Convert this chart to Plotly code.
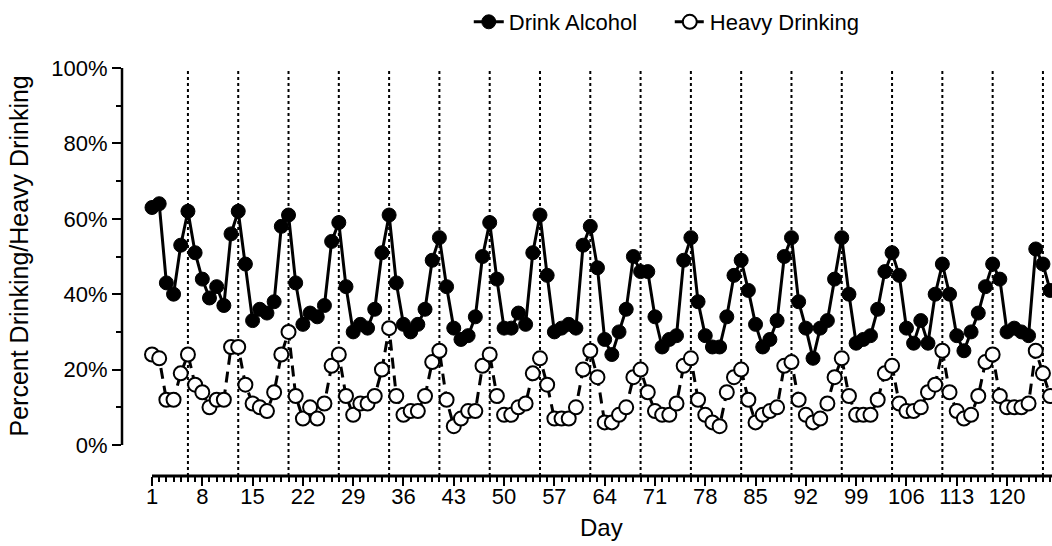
import plotly.graph_objects as go

days = list(range(1, 127))

drink_alcohol = [
    63, 64, 43, 40, 53, 62, 51, 44, 39, 42, 37, 56, 62, 48, 33, 36, 35, 38, 58, 61,
    43, 32, 35, 34, 37, 54, 59, 42, 30, 32, 31, 36, 51, 61, 43, 32, 30, 32, 36, 49,
    55, 42, 31, 28, 29, 34, 50, 59, 44, 31, 31, 35, 32, 51, 61, 45, 30, 31, 32, 31,
    53, 58, 47, 28, 24, 30, 36, 50, 46, 46, 34, 26, 28, 29, 49, 55, 38, 29, 26, 26,
    34, 45, 49, 41, 32, 26, 28, 33, 50, 55, 38, 31, 23, 31, 33, 44, 55, 40, 27, 28,
    29, 36, 46, 51, 45, 31, 27, 33, 27, 40, 48, 40, 29, 25, 30, 35, 42, 48, 44, 30,
    31, 30, 29, 52, 48, 41,
]

heavy_drinking = [
    24, 23, 12, 12, 19, 24, 16, 14, 10, 12, 12, 26, 26, 16, 11, 10, 9, 14, 24, 30,
    13, 7, 10, 7, 11, 21, 24, 13, 8, 11, 11, 13, 20, 31, 13, 8, 9, 9, 13, 22,
    25, 12, 5, 7, 9, 9, 21, 24, 13, 8, 8, 10, 11, 19, 23, 16, 7, 7, 7, 10,
    20, 25, 18, 6, 6, 8, 10, 18, 20, 14, 9, 8, 8, 11, 21, 23, 12, 8, 6, 5,
    14, 18, 20, 12, 6, 8, 9, 10, 21, 22, 12, 8, 6, 7, 11, 18, 23, 13, 8, 8,
    8, 12, 19, 21, 11, 9, 9, 10, 14, 16, 25, 14, 9, 7, 8, 13, 22, 24, 13, 10,
    10, 10, 11, 25, 19, 13,
]

week_marks = list(range(6, 127, 7))
x_tick_vals = list(range(1, 121, 7))
y_tick_vals = [0, 20, 40, 60, 80, 100]
y_tick_text = [f"{v}%" for v in y_tick_vals]

FONT = "Liberation Sans, Arial, sans-serif"
PLOT_W, PLOT_H = 930, 408
X_MIN, X_MAX = 1 - 30 / 7.185, 1 + 900 / 7.185
Y_MIN, Y_MAX = -31 / 3.77, 100

fig = go.Figure()

fig.add_trace(go.Scatter(
    x=days, y=drink_alcohol,
    mode="lines+markers",
    name="Drink Alcohol",
    line=dict(color="black", width=3),
    marker=dict(size=14, color="black", line=dict(color="black", width=1)),
))

fig.add_trace(go.Scatter(
    x=days, y=heavy_drinking,
    mode="lines+markers",
    name="Heavy Drinking",
    line=dict(color="black", width=3, dash="11px,7px"),
    marker=dict(size=14, color="white", line=dict(color="black", width=2)),
))

shapes = []
# dotted weekly guide lines
for d in week_marks:
    shapes.append(dict(
        type="line", xref="x", yref="y", x0=d, x1=d, y0=Y_MIN, y1=Y_MAX,
        line=dict(color="black", width=2, dash="dot"), layer="below",
    ))
# offset axis lines (GraphPad style)
shapes.append(dict(type="line", xref="paper", yref="y", x0=0, x1=0, y0=0, y1=100,
                   line=dict(color="black", width=2.5)))
shapes.append(dict(type="line", xref="x", yref="paper", x0=1, x1=X_MAX, y0=0, y1=0,
                   line=dict(color="black", width=3)))

fig.update_layout(
    width=1052, height=546,
    paper_bgcolor="white", plot_bgcolor="white",
    font=dict(family=FONT, size=22, color="black"),
    margin=dict(l=122, r=0, t=68, b=70, autoexpand=False),
    shapes=shapes,
    showlegend=True,
    legend=dict(
        orientation="h",
        x=0.589, xanchor="center",
        y=1 + (68 - 22) / PLOT_H, yanchor="middle",
        font=dict(size=22),
        entrywidth=156,
        bgcolor="rgba(0,0,0,0)",
    ),
    xaxis=dict(
        range=[X_MIN, X_MAX],
        showline=False, showgrid=False, zeroline=False,
        tickmode="array", tickvals=x_tick_vals,
        ticks="outside", ticklen=9, tickwidth=2, tickcolor="black",
        tickfont=dict(size=22), ticklabelstandoff=-8,
        minor=dict(tickmode="array", tickvals=days, ticks="outside",
                   ticklen=5, tickwidth=2, tickcolor="black", showgrid=False),
    ),
    yaxis=dict(
        range=[Y_MIN, Y_MAX],
        showline=False, showgrid=False, zeroline=False,
        tickmode="array", tickvals=y_tick_vals, ticktext=y_tick_text,
        ticks="outside", ticklen=9, tickwidth=2, tickcolor="black",
        tickfont=dict(size=22),
        minor=dict(tickmode="array", tickvals=[10, 30, 50, 70, 90], ticks="outside",
                   ticklen=5, tickwidth=2, tickcolor="black", showgrid=False),
    ),
    annotations=[
        dict(text="Percent Drinking/Heavy Drinking", textangle=-90,
             xref="paper", yref="y", x=-120 / PLOT_W, y=50,
             xanchor="left", yanchor="middle", showarrow=False,
             font=dict(size=25)),
        dict(text="Day", xref="x", yref="paper", x=63.5, y=-(512 - 476) / PLOT_H,
             xanchor="center", yanchor="top", showarrow=False,
             font=dict(size=24)),
    ],
)

fig.write_html("out.html", config={"displayModeBar": False},
               post_script="document.body.style.margin='0';")
